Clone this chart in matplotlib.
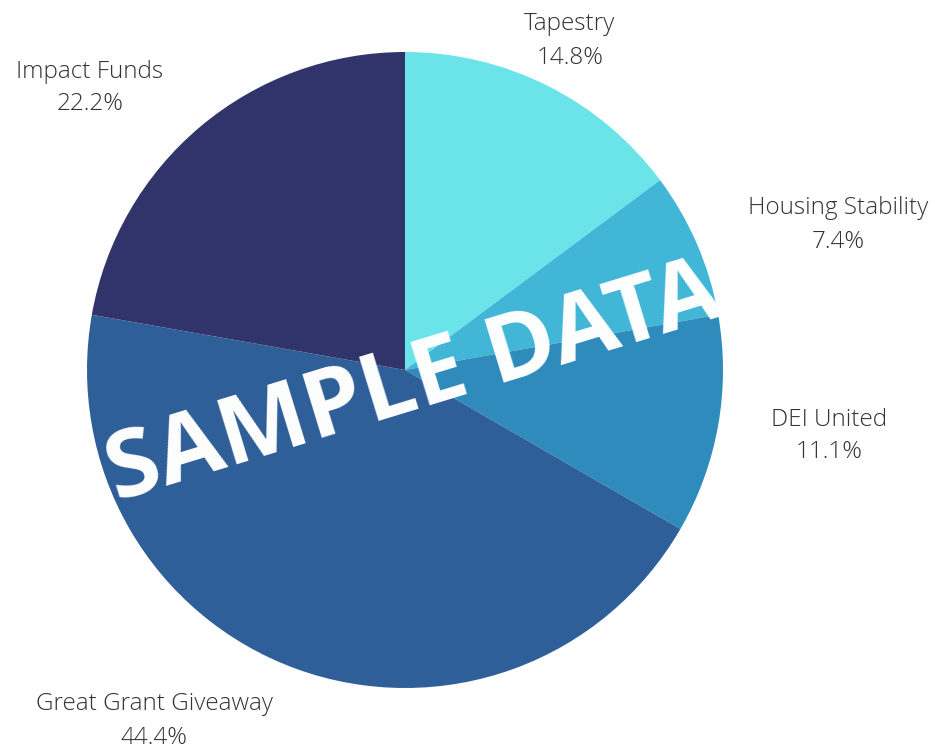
import matplotlib.pyplot as plt

plt.rcParams['font.family'] = ['Open Sans', 'DejaVu Sans']

# data
names = ['Tapestry', 'Housing Stability', 'DEI United', 'Great Grant Giveaway', 'Impact Funds']
shares = [14.8, 7.4, 11.1, 44.4, 22.2]
colors = ['#6AE4E8', '#42B6D6', '#2E8BBB', '#2F5F98', '#30346A']

# label anchor points (pixels, y measured from bottom)
label_pos = [(570, 710), (838, 526), (829, 315), (154, 30), (90, 663)]

fig = plt.figure(figsize=(9.35, 7.51), dpi=100)
ax = fig.add_axes([0, 0, 1, 1])

ax.pie(shares, colors=colors, startangle=90, counterclock=False,
       center=(405, 381), radius=318, frame=True,
       wedgeprops=dict(linewidth=0))
ax.set_xlim(0, 935)
ax.set_ylim(0, 751)
ax.set_aspect('equal')
ax.axis('off')

for name, val, (x, y) in zip(names, shares, label_pos):
    ax.text(x, y, f'{name}\n{val:.1f}%', ha='center', va='center',
            fontsize=17.5, fontweight='light', color='#333333',
            linespacing=1.5)

ax.text(414, 366, 'SAMPLE DATA', ha='center', va='center', rotation=17,
        rotation_mode='anchor', fontsize=68, fontweight='bold',
        color='white')

fig.savefig('out.png', dpi=100)
